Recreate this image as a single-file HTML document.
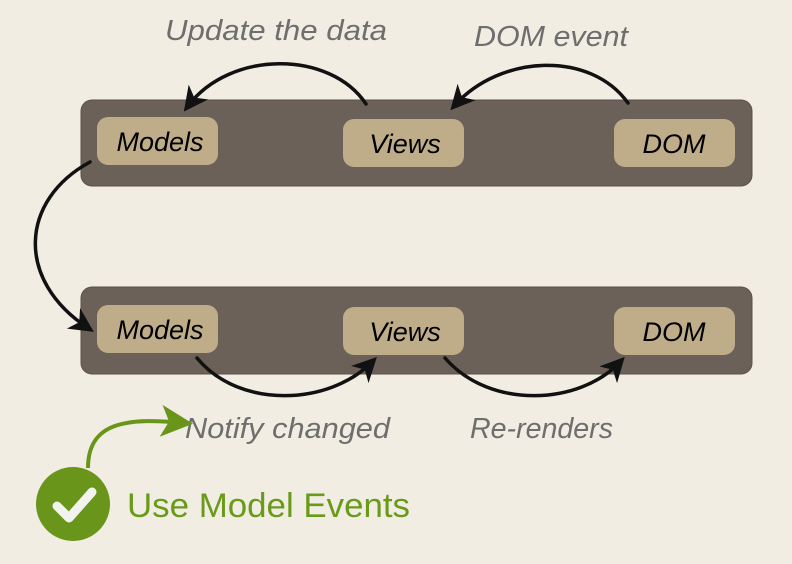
<!DOCTYPE html>
<html><head><meta charset="utf-8"><style>
html,body{margin:0;padding:0;width:792px;height:564px;overflow:hidden;background:#f1ede2;}
svg{display:block}
text{font-family:"Liberation Sans",sans-serif;}
</style></head><body>
<svg width="792" height="564" viewBox="0 0 792 564" xmlns="http://www.w3.org/2000/svg">
<defs>
<marker id="ah" markerWidth="7" markerHeight="7" refX="5" refY="3.5" orient="auto" markerUnits="strokeWidth">
<path d="M0,0 L7,3.5 L0,7 L2,3.5 z" fill="#111"/></marker>
<marker id="ahg" markerWidth="8" markerHeight="8" refX="6" refY="4" orient="auto" markerUnits="strokeWidth">
<path d="M0,0 L8,4 L0,8 L2,4 z" fill="#6a951b"/></marker>
</defs>
<rect width="792" height="564" fill="#f1ede2"/>
<rect x="81" y="100" width="671" height="86" rx="11" fill="#6b6159" stroke="#5a514a" stroke-width="1"/>
<rect x="81" y="287" width="671" height="87" rx="11" fill="#6b6159" stroke="#5a514a" stroke-width="1"/>
<rect x="97" y="117" width="121" height="48" rx="11" fill="#bfad89"/>
<rect x="343" y="119" width="121" height="48" rx="11" fill="#bfad89"/>
<rect x="614" y="119" width="121" height="48" rx="11" fill="#bfad89"/>
<g font-style="italic" font-size="27" fill="#000" text-anchor="middle">
<text x="160" y="151">Models</text>
<text x="405" y="153">Views</text>
<text x="674" y="153">DOM</text>
</g>
<rect x="97" y="305" width="121" height="48" rx="11" fill="#bfad89"/>
<rect x="343" y="307" width="121" height="48" rx="11" fill="#bfad89"/>
<rect x="614" y="307" width="121" height="48" rx="11" fill="#bfad89"/>
<g font-style="italic" font-size="27" fill="#000" text-anchor="middle">
<text x="160" y="339">Models</text>
<text x="405" y="341">Views</text>
<text x="674" y="341">DOM</text>
</g>
<g font-style="italic" font-size="29" fill="#6e6e6e">
<text x="165" y="40" textLength="222" lengthAdjust="spacingAndGlyphs">Update the data</text>
<text x="474" y="46" textLength="154" lengthAdjust="spacingAndGlyphs">DOM event</text>
<text x="185" y="438" textLength="205" lengthAdjust="spacingAndGlyphs">Notify changed</text>
<text x="470" y="438" textLength="143" lengthAdjust="spacingAndGlyphs">Re-renders</text>
</g>
<g fill="none" stroke="#111" stroke-width="3.5" stroke-linecap="round">
<path d="M366,104 C330,50 230,50 188,106" marker-end="url(#ah)"/>
<path d="M628,103 C590,50 500,55 455,105" marker-end="url(#ah)"/>
<path d="M90,162 C20,200 15,280 88,328" marker-end="url(#ah)"/>
<path d="M197,358 C240,410 330,405 372,362" marker-end="url(#ah)"/>
<path d="M445,358 C490,410 580,405 620,362" marker-end="url(#ah)"/>
</g>
<path d="M88,468 C88,420 130,418 185,423" fill="none" stroke="#6a951b" stroke-width="4" marker-end="url(#ahg)"/>
<circle cx="73" cy="504" r="37" fill="#6a951b"/>
<path d="M57,506 L69,518 L92,492" fill="none" stroke="#f2f2ee" stroke-width="9" stroke-linecap="round" stroke-linejoin="round"/>
<text x="127" y="517" font-size="34" fill="#6a9a1a" textLength="283" lengthAdjust="spacingAndGlyphs">Use Model Events</text>
</svg>
</body></html>
